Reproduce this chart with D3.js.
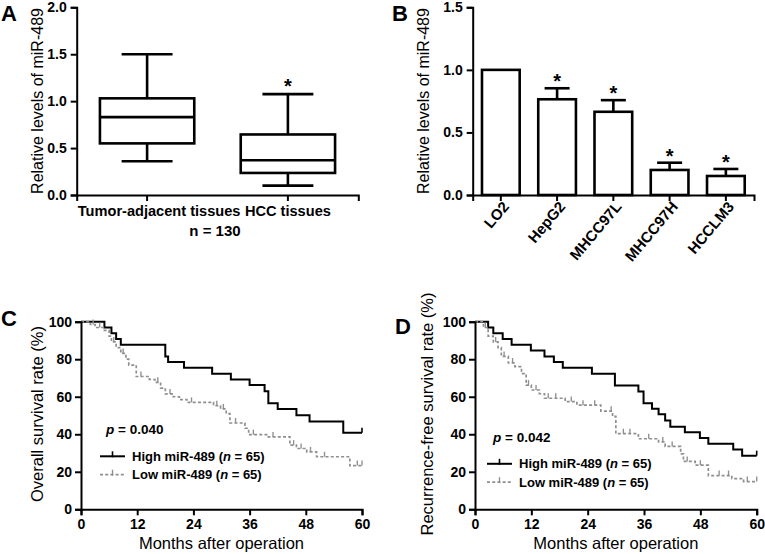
<!DOCTYPE html>
<html><head><meta charset="utf-8">
<script src="https://cdn.jsdelivr.net/npm/d3@7"></script>
<style>body{margin:0;background:#fff}svg{display:block}text{font-family:"Liberation Sans",Arial,sans-serif;fill:#000}</style>
</head><body><svg id="c" width="765" height="554"></svg>
<script>
// ---------- DATA ----------
const boxCategories = ["Tumor-adjacent tissues", "HCC tissues"];
const boxMin    = [0.36, 0.10];
const boxQ1     = [0.55, 0.235];
const boxMedian = [0.83, 0.37];
const boxQ3     = [1.03, 0.645];
const boxMax    = [1.50, 1.075];
const boxSig    = [false, true];
const boxTicks  = [0, 0.5, 1.0, 1.5, 2.0];

const cellLines = ["LO2", "HepG2", "MHCC97L", "MHCC97H", "HCCLM3"];
const cellMeans = [1.0, 0.765, 0.665, 0.20, 0.152];
const cellErr   = [0, 0.088, 0.093, 0.058, 0.056];
const cellSig   = [false, true, true, true, true];
const barTicks  = [0, 0.5, 1.0, 1.5];

const monthTicks = [0, 12, 24, 36, 48, 60];
const survTicks  = [0, 20, 40, 60, 80, 100];

// Overall survival (C)
const osHighT = [0, 5, 6.5, 7.5, 8.5, 18, 18.6, 22, 28, 32, 36, 39.2, 40, 42, 46, 48.8, 56, 60];
const osHighS = [100, 96.9, 93.8, 90.8, 87.7, 81.5, 78.5, 75.4, 72.3, 69.2, 66.2, 62.9, 56.5, 53.5, 50.2, 46.8, 40.8, 40.8];
const osHighCens = [60];
const osLowT = [0, 2, 3, 5, 6, 6.5, 7.5, 8.5, 9.6, 10.2, 11.8, 14.6, 15.8, 17, 18, 19.7, 21, 22.6, 28.3, 29.8, 31, 31.8, 35, 35.8, 40, 44.6, 46, 48.2, 50.3, 57.4, 60];
const osLowS = [100, 98.5, 96.9, 95.4, 92.3, 89.2, 86.2, 83.1, 80.0, 76.9, 70.8, 69.2, 67.7, 64.6, 61.5, 60.0, 58.5, 57.0, 55.2, 53.5, 51.0, 46.0, 43.2, 39.8, 38.6, 34.2, 32.4, 30.6, 28.0, 23.3, 23.3];
const osLowCens = [2.6, 4, 7, 9, 12.8, 16.4, 19, 23.6, 29, 30.4, 33, 36.8, 41, 45.4, 47, 49, 52, 59, 60];

// Recurrence-free survival (D)
const rfsHighT = [0, 2.8, 3.9, 5.9, 7.8, 11.9, 14.8, 16.8, 18.7, 24.9, 29.8, 34.8, 35.9, 37.7, 39.1, 40.5, 41.6, 44.7, 47.9, 49.7, 55, 56.9, 60];
const rfsHighS = [100, 96.9, 93.8, 90.8, 87.7, 84.6, 81.5, 78.5, 75.4, 72.3, 66.0, 62.8, 56.5, 53.6, 50.6, 47.4, 44.0, 41.1, 38.0, 34.9, 31.9, 28.6, 28.6];
const rfsHighCens = [60];
const rfsLowT = [0, 1.8, 2.8, 3.9, 4.9, 5.6, 7.1, 8.5, 9.9, 10.9, 12, 13.7, 14.8, 19.2, 21.7, 26.8, 29.3, 30, 34.8, 39.1, 40.5, 43.8, 44.4, 46.9, 49.7, 54.7, 57.2, 60];
const rfsLowS = [100, 96.9, 92.3, 89.2, 86.2, 81.5, 78.0, 76.0, 72.3, 66.2, 63.6, 61.6, 59.2, 57.4, 55.5, 52.3, 49.5, 40.3, 37.6, 35.9, 33.5, 29.5, 25.5, 23.5, 18.0, 16.4, 14.8, 14.8];
const rfsLowCens = [2.2, 4.4, 6.2, 8, 11.4, 13, 15.6, 17.2, 20.5, 23, 25.5, 29, 31.6, 33, 37, 40, 42, 45.2, 48, 52, 54, 58, 60];

// ---------- DRAW ----------
const svg = d3.select("#c");
const FONT = '"Liberation Sans",Arial,sans-serif';

function txt(g, x, y, s, size, weight, anchor) {
  return g.append("text").attr("x", x).attr("y", y).text(s)
    .attr("font-size", size).attr("font-weight", weight || "normal")
    .attr("text-anchor", anchor || "start");
}
function styleAxis(g) {
  g.select(".domain").attr("stroke", "#000").attr("stroke-width", 2);
  g.selectAll(".tick line").attr("stroke", "#000").attr("stroke-width", 2);
  g.selectAll(".tick text").attr("font-family", FONT).attr("font-size", 14).attr("font-weight", "bold").attr("fill", "#000");
}

// ===== Panel A: box plot =====
{
  const x = d3.scaleBand().domain(boxCategories).range([76.7, 358.3]).paddingInner(0.33).paddingOuter(0.165);
  const y = d3.scaleLinear().domain([0, 2]).range([195, 7.3]);
  const ya = svg.append("g").attr("transform", "translate(76.7,0)")
    .call(d3.axisLeft(y).tickValues(boxTicks).tickFormat(d3.format(".1f")).tickSizeOuter(0).tickSize(6).tickPadding(4));
  styleAxis(ya);
  const xa = svg.append("g").attr("transform", "translate(0,195)")
    .call(d3.axisBottom(x).tickSizeOuter(0).tickSize(6).tickPadding(6));
  styleAxis(xa);
  xa.selectAll(".tick text").attr("font-size", 14.6).attr("dy", "0.6em")
    .attr("dx", (d, i) => i === 0 ? 12 : 0);
  const g = svg.append("g").attr("fill", "none").attr("stroke", "#000").attr("stroke-width", 2.6);
  boxCategories.forEach((c, i) => {
    const x0 = x(c), bw = x.bandwidth(), cx = x0 + bw / 2, cap = bw * 0.27;
    g.append("line").attr("x1", cx).attr("x2", cx).attr("y1", y(boxMax[i])).attr("y2", y(boxQ3[i]));
    g.append("line").attr("x1", cx).attr("x2", cx).attr("y1", y(boxQ1[i])).attr("y2", y(boxMin[i]));
    g.append("line").attr("x1", cx - cap).attr("x2", cx + cap).attr("y1", y(boxMax[i])).attr("y2", y(boxMax[i]));
    g.append("line").attr("x1", cx - cap).attr("x2", cx + cap).attr("y1", y(boxMin[i])).attr("y2", y(boxMin[i]));
    g.append("rect").attr("x", x0).attr("width", bw).attr("y", y(boxQ3[i])).attr("height", y(boxQ1[i]) - y(boxQ3[i])).attr("fill", "#fff");
    g.append("line").attr("x1", x0).attr("x2", x0 + bw).attr("y1", y(boxMedian[i])).attr("y2", y(boxMedian[i]));
    if (boxSig[i]) txt(svg, cx, y(boxMax[i]) - 1, "*", 20, "bold", "middle");
  });
  txt(svg, 215, 236, "n = 130", 15, "bold", "middle");
  txt(svg, 42.5, 101, "Relative levels of miR-489", 16, "normal", "middle").attr("transform", "rotate(-90,42.5,101)");
  txt(svg, 1, 21, "A", 22, "bold");
}

// ===== Panel B: bar chart =====
{
  const x = d3.scaleBand().domain(cellLines).range([472.7, 754]).paddingInner(0.33).paddingOuter(0.165);
  const y = d3.scaleLinear().domain([0, 1.5]).range([195, 7.3]);
  const g = svg.append("g");
  cellLines.forEach((c, i) => {
    const x0 = x(c), bw = x.bandwidth(), cx = x0 + bw / 2;
    if (cellErr[i] > 0) {
      g.append("line").attr("x1", cx).attr("x2", cx).attr("y1", y(cellMeans[i])).attr("y2", y(cellMeans[i] + cellErr[i])).attr("stroke", "#000").attr("stroke-width", 2.6);
      g.append("line").attr("x1", cx - 12.5).attr("x2", cx + 12.5).attr("y1", y(cellMeans[i] + cellErr[i])).attr("y2", y(cellMeans[i] + cellErr[i])).attr("stroke", "#000").attr("stroke-width", 2.6);
    }
    g.append("rect").attr("x", x0).attr("width", bw).attr("y", y(cellMeans[i])).attr("height", y(0) - y(cellMeans[i]))
      .attr("fill", "#fff").attr("stroke", "#000").attr("stroke-width", 2.6);
    if (cellSig[i]) txt(svg, cx, y(cellMeans[i] + cellErr[i]), "*", 20, "bold", "middle");
  });
  const ya = svg.append("g").attr("transform", "translate(472.7,0)")
    .call(d3.axisLeft(y).tickValues(barTicks).tickFormat(d3.format(".1f")).tickSizeOuter(0).tickSize(6).tickPadding(4));
  styleAxis(ya);
  const xa = svg.append("g").attr("transform", "translate(0,195)")
    .call(d3.axisBottom(x).tickSizeOuter(0).tickSize(6));
  styleAxis(xa);
  xa.selectAll(".tick text").attr("font-size", 15).attr("text-anchor", "end").attr("dy", null).attr("y", 0)
    .attr("transform", "translate(9,12) rotate(-50)");
  txt(svg, 428.5, 101, "Relative levels of miR-489", 16, "normal", "middle").attr("transform", "rotate(-90,428.5,101)");
  txt(svg, 392, 21, "B", 22, "bold");
}

// ===== KM panels =====
function kmPanel(x0, x1, letter, letterX, letterY, yTitle, titleX, pText, legY, legX, curves) {
  const x = d3.scaleLinear().domain([0, 60]).range([x0, x1]);
  const y = d3.scaleLinear().domain([0, 100]).range([509.3, 321.7]);
  const line = d3.line().x(d => x(d[0])).y(d => y(d[1])).curve(d3.curveStepAfter);
  curves.forEach(c => {
    const pts = c.t.map((t, i) => [t, c.s[i]]);
    const p = svg.append("path").attr("d", line(pts)).attr("fill", "none")
      .attr("stroke", c.color).attr("stroke-width", c.w);
    if (c.dash) p.attr("stroke-dasharray", c.dash);
    c.cens.forEach(ct => {
      let v = c.s[0];
      c.t.forEach((t, i) => { if (t <= ct) v = c.s[i]; });
      svg.append("line").attr("x1", x(ct)).attr("x2", x(ct)).attr("y1", y(v)).attr("y2", y(v) - 5)
        .attr("stroke", c.color).attr("stroke-width", c.w * 0.8);
    });
  });
  const ya = svg.append("g").attr("transform", `translate(${x0},0)`)
    .call(d3.axisLeft(y).tickValues(survTicks).tickSizeOuter(0).tickSize(6).tickPadding(3));
  styleAxis(ya);
  const xa = svg.append("g").attr("transform", "translate(0,509.3)")
    .call(d3.axisBottom(x).tickValues(monthTicks).tickSizeOuter(0).tickSize(6).tickPadding(4));
  styleAxis(xa);
  txt(svg, (x0 + x1) / 2, 549, "Months after operation", 16.5, "normal", "middle");
  txt(svg, titleX, 414, yTitle, 16.5, "normal", "middle").attr("transform", `rotate(-90,${titleX},414)`);
  txt(svg, letterX, letterY, letter, 22, "bold");
  // p value
  const pt = txt(svg, legX + 6, legY, "", 13.5, "bold");
  pt.append("tspan").attr("font-style", "italic").text("p");
  pt.append("tspan").text(" = " + pText);
  // legend
  curves.forEach((c, i) => {
    const ly = legY + 22.3 + i * 18.4;
    const l = svg.append("line").attr("x1", legX).attr("x2", legX + 25).attr("y1", ly).attr("y2", ly)
      .attr("stroke", c.color).attr("stroke-width", c.w);
    if (c.dash) l.attr("stroke-dasharray", c.dash);
    svg.append("line").attr("x1", legX + 12.5).attr("x2", legX + 12.5).attr("y1", ly + 1).attr("y2", ly - 5)
      .attr("stroke", c.color).attr("stroke-width", c.w * 0.8);
    const t = txt(svg, legX + 32, ly + 4.5, "", 13, "bold");
    t.append("tspan").text(c.label + " (");
    t.append("tspan").attr("font-style", "italic").text("n");
    t.append("tspan").text(" = 65)");
  });
}

kmPanel(81, 362, "C", 1, 326, "Overall survival rate (%)", 43, "0.040", 434, 100, [
  { t: osHighT, s: osHighS, cens: osHighCens, color: "#000", w: 2, label: "High miR-489" },
  { t: osLowT, s: osLowS, cens: osLowCens, color: "#8f8f8f", w: 1.7, dash: "3,2.2", label: "Low miR-489" }
]);
kmPanel(475, 756.7, "D", 395, 334, "Recurrence-free survival rate (%)", 433, "0.042", 441.5, 487, [
  { t: rfsHighT, s: rfsHighS, cens: rfsHighCens, color: "#000", w: 2, label: "High miR-489" },
  { t: rfsLowT, s: rfsLowS, cens: rfsLowCens, color: "#8f8f8f", w: 1.7, dash: "3,2.2", label: "Low miR-489" }
]);
</script></body></html>
